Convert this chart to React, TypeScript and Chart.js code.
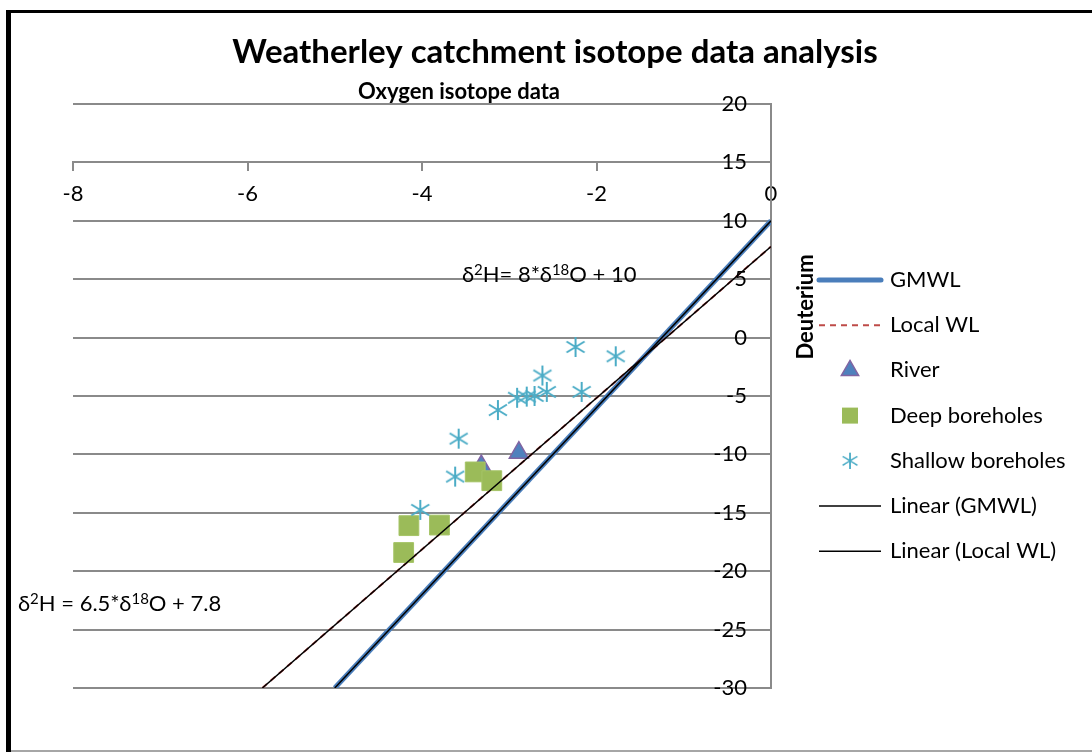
import React, { useEffect, useRef } from 'react';
import { Chart, registerables } from 'chart.js';

Chart.register(...registerables);

// ---------- data ----------
const xTickValues = [-8, -6, -4, -2, 0];
const yTickValues = [20, 15, 10, 5, 0, -5, -10, -15, -20, -25, -30];

const gmwlX = [-5, 0];
const gmwlY = [-30, 10];
const localX = [-5.83, 0];
const localY = [-30, 7.8];

const riverX = [-3.32, -2.89];
const riverY = [-11.0, -9.85];

const deepX = [-3.39, -3.2, -4.15, -3.8, -4.21];
const deepY = [-11.5, -12.25, -16.1, -16.05, -18.4];

const shallowX = [-2.24, -1.78, -2.62, -2.17, -2.57, -2.71, -2.8, -2.91, -3.13, -3.58, -3.62, -4.02];
const shallowY = [-0.8, -1.6, -3.25, -4.65, -4.65, -5.0, -5.05, -5.15, -6.2, -8.65, -11.9, -14.75];

const seriesNames = ['GMWL', 'Local WL', 'River', 'Deep boreholes', 'Shallow boreholes', 'Linear (GMWL)', 'Linear (Local WL)'];

const TITLE = 'Weatherley catchment isotope data analysis';
const X_TITLE = 'Oxygen isotope data';
const Y_TITLE = 'Deuterium';

const FONT = 'Lato, "Open Sans", sans-serif';
const GRID = '#8a8a8a';

const zip = (xs: number[], ys: number[]) => xs.map((x, i) => ({ x, y: ys[i] }));

function makeAsterisk(): HTMLCanvasElement {
  const c = document.createElement('canvas');
  c.width = 22;
  c.height = 22;
  const g = c.getContext('2d')!;
  g.strokeStyle = '#4bacc6';
  g.lineWidth = 2;
  g.beginPath();
  g.moveTo(11, 1);
  g.lineTo(11, 21);
  g.moveTo(2, 5.5);
  g.lineTo(20, 16.5);
  g.moveTo(2, 16.5);
  g.lineTo(20, 5.5);
  g.stroke();
  return c;
}

function drawRich(ctx: CanvasRenderingContext2D, parts: [string, boolean][], x: number, y: number, size: number) {
  let cx = x;
  for (const [t, sup] of parts) {
    ctx.font = `${sup ? Math.round(size * 0.68) : size}px ${FONT}`;
    ctx.fillText(t, cx, sup ? y - size * 0.33 : y);
    cx += ctx.measureText(t).width;
  }
}

export default function App() {
  const ref = useRef<HTMLCanvasElement | null>(null);

  useEffect(() => {
    const canvas = ref.current;
    if (!canvas) return;
    const asterisk = makeAsterisk();

    const decor = {
      id: 'decor',
      beforeDraw(chart: any) {
        const ctx = chart.ctx as CanvasRenderingContext2D;
        ctx.save();
        ctx.fillStyle = '#ffffff';
        ctx.fillRect(0, 0, chart.width, chart.height);
        ctx.fillStyle = '#000000';
        ctx.fillRect(6, 10, 5, chart.height - 10);
        ctx.fillRect(6, 10, chart.width - 6, 3);
        ctx.fillStyle = '#a6a6a6';
        ctx.fillRect(11, 750, chart.width - 11, 2);
        ctx.restore();
      },
      afterDraw(chart: any) {
        const ctx = chart.ctx as CanvasRenderingContext2D;
        const xs = chart.scales.x;
        const ys = chart.scales.y;
        ctx.save();

        // y tick labels (left of the vertical axis)
        ctx.fillStyle = '#000';
        ctx.font = `22px ${FONT}`;
        ctx.textAlign = 'right';
        ctx.textBaseline = 'middle';
        const axisX = xs.getPixelForValue(0);
        for (const t of ys.ticks) {
          ctx.fillText(String(t.value), axisX - 24, ys.getPixelForValue(t.value));
        }

        ctx.textAlign = 'center';
        ctx.font = `bold 33px ${FONT}`;
        ctx.fillText(TITLE, 555, 52);
        ctx.font = `bold 22px ${FONT}`;
        ctx.fillText(X_TITLE, 459, 92);
        ctx.save();
        ctx.translate(806, 307);
        ctx.rotate(-Math.PI / 2);
        ctx.fillText(Y_TITLE, 0, 0);
        ctx.restore();

        // equations
        ctx.textAlign = 'left';
        ctx.textBaseline = 'alphabetic';
        drawRich(ctx, [['δ', false], ['2', true], ['H= 8*δ', false], ['18', true], ['O + 10', false]], 462, 282, 22);
        drawRich(ctx, [['δ', false], ['2', true], ['H = 6.5*δ', false], ['18', true], ['O + 7.8', false]], 18, 611, 22);

        // legend
        const ds = chart.data.datasets;
        ctx.textBaseline = 'middle';
        for (let i = 0; i < ds.length; i++) {
          const d = ds[i];
          const y = 280 + i * 45.2;
          const mx = 850;
          ctx.save();
          if (d.showLine) {
            ctx.strokeStyle = d.borderColor;
            ctx.lineWidth = d.borderWidth;
            ctx.setLineDash(d.borderDash || []);
            ctx.lineCap = d.borderWidth > 3 ? 'round' : 'butt';
            ctx.beginPath();
            ctx.moveTo(819, y);
            ctx.lineTo(881, y);
            ctx.stroke();
          } else if (d.pointStyle === 'triangle') {
            const r = 10;
            ctx.fillStyle = d.backgroundColor;
            ctx.strokeStyle = d.borderColor;
            ctx.lineWidth = 1.5;
            ctx.beginPath();
            ctx.moveTo(mx, y - r);
            ctx.lineTo(mx + r * 0.866, y + r * 0.5);
            ctx.lineTo(mx - r * 0.866, y + r * 0.5);
            ctx.closePath();
            ctx.fill();
            ctx.stroke();
          } else if (d.pointStyle === 'rect') {
            ctx.fillStyle = d.backgroundColor;
            ctx.fillRect(mx - 8, y - 8, 16, 16);
          } else {
            ctx.drawImage(asterisk, mx - 9, y - 9, 18, 18);
          }
          ctx.restore();
          ctx.fillStyle = '#000';
          ctx.font = `22px ${FONT}`;
          ctx.fillText(seriesNames[i], 890, y);
        }
        ctx.restore();
      },
    };

    const chart = new Chart(canvas, {
      type: 'scatter',
      data: {
        datasets: [
          {
            label: seriesNames[0],
            data: zip(gmwlX, gmwlY),
            showLine: true,
            borderColor: '#4a7ebb',
            borderWidth: 5,
            pointRadius: 0,
            order: 6,
          },
          {
            label: seriesNames[1],
            data: zip(localX, localY),
            showLine: true,
            borderColor: '#be4b48',
            borderWidth: 2,
            borderDash: [6, 5],
            pointRadius: 0,
            order: 5,
          },
          {
            label: seriesNames[2],
            data: zip(riverX, riverY),
            pointStyle: 'triangle',
            pointRadius: 11,
            backgroundColor: '#4f81bd',
            borderColor: '#8064a2',
            borderWidth: 1.5,
            order: 4,
          },
          {
            label: seriesNames[3],
            data: zip(deepX, deepY),
            pointStyle: 'rect',
            pointRadius: 14,
            backgroundColor: '#9bbb59',
            borderColor: '#a5c466',
            borderWidth: 1,
            order: 3,
          },
          {
            label: seriesNames[4],
            data: zip(shallowX, shallowY),
            pointStyle: asterisk as any,
            pointRadius: 11,
            backgroundColor: '#4bacc6',
            borderColor: '#4bacc6',
            order: 2,
          },
          {
            label: seriesNames[5],
            data: zip(gmwlX, gmwlY),
            showLine: true,
            borderColor: '#000000',
            borderWidth: 1.5,
            pointRadius: 0,
            order: 1,
          },
          {
            label: seriesNames[6],
            data: zip(localX, localY),
            showLine: true,
            borderColor: '#000000',
            borderWidth: 1.5,
            pointRadius: 0,
            order: 0,
          },
        ],
      },
      options: {
        responsive: false,
        animation: false,
        events: [],
        layout: { padding: { left: 73, right: 321, top: 104, bottom: 64 } },
        plugins: {
          legend: { display: false },
          title: { display: false },
          tooltip: { enabled: false },
        },
        scales: {
          x: {
            type: 'linear',
            min: -8,
            max: 0,
            position: { y: 15 } as any,
            afterBuildTicks: (s: any) => {
              s.ticks = xTickValues.map((v) => ({ value: v }));
            },
            grid: {
              display: true,
              drawOnChartArea: false,
              drawTicks: true,
              tickLength: 8,
              color: GRID,
              lineWidth: 2,
            },
            border: { display: true, color: GRID, width: 2 },
            ticks: {
              color: '#000',
              font: { family: FONT, size: 22 },
              padding: 10,
              maxRotation: 0,
            },
          },
          y: {
            type: 'linear',
            min: -30,
            max: 20,
            position: { x: 0 } as any,
            afterBuildTicks: (s: any) => {
              s.ticks = yTickValues.map((v) => ({ value: v }));
            },
            grid: {
              display: true,
              drawOnChartArea: true,
              drawTicks: false,
              color: GRID,
              lineWidth: 2,
            },
            border: { display: true, color: GRID, width: 2 },
            ticks: { display: false },
          },
        },
      },
      plugins: [decor],
    });
    return () => chart.destroy();
  }, []);

  return (
    <div style={{ position: 'absolute', left: 0, top: 0, width: 1092, height: 752 }}>
      <canvas ref={ref} width={1092} height={752} style={{ display: 'block' }} />
    </div>
  );
}
